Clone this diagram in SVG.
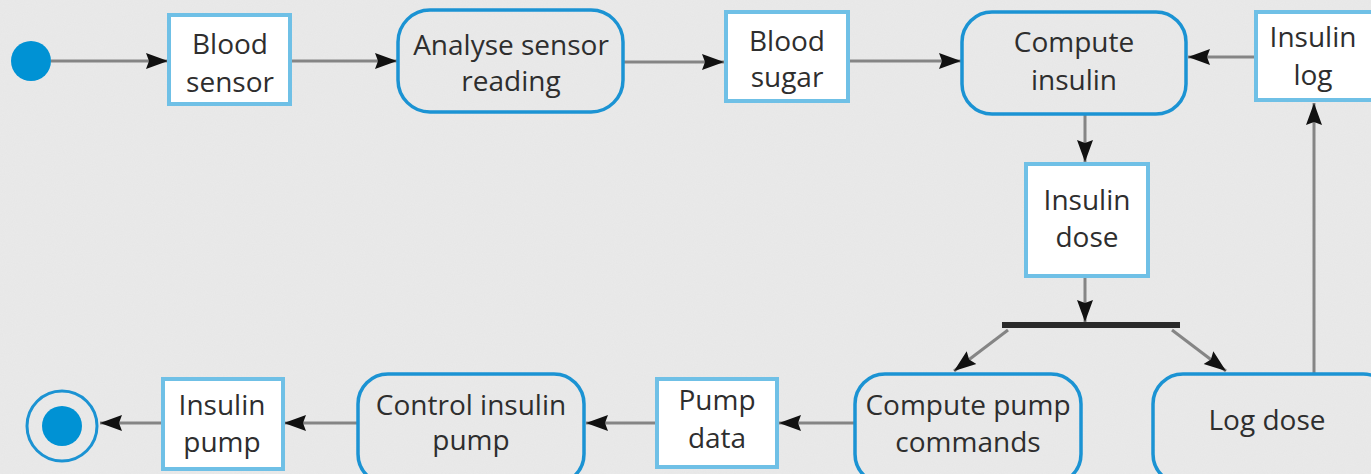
<svg xmlns="http://www.w3.org/2000/svg" width="1371" height="474" viewBox="0 0 1371 474">
<style>
.bg{fill:#eaeaea}
.obj{fill:#ffffff;stroke:#6fc0e6;stroke-width:4}
.act{fill:none;stroke:#1b93d3;stroke-width:3.5}
.t{font-family:"Open Sans","Noto Sans",sans-serif;font-size:28px;fill:#2e2e2e;text-anchor:middle}
.c{fill:none;stroke:#858585;stroke-width:3}
.start{fill:#0092d4}
</style>
<defs>
<marker id="ah" markerUnits="userSpaceOnUse" markerWidth="24" markerHeight="18" refX="22" refY="9" orient="auto">
<path d="M0,1 L22,9 L0,17 L3,9 Z" fill="#111"/>
</marker>
<filter id="noise" x="0" y="0" width="100%" height="100%">
<feTurbulence type="fractalNoise" baseFrequency="0.9" numOctaves="2" seed="3"/>
<feColorMatrix type="matrix" values="0 0 0 0 0.5  0 0 0 0 0.5  0 0 0 0 0.5  0 0 0 0.08 0"/>
</filter>
</defs>
<rect class="bg" x="0" y="0" width="1371" height="474"/>
<rect x="0" y="0" width="1371" height="474" filter="url(#noise)"/>

<g id="connectors">
<line class="c" x1="51" y1="61" x2="168" y2="61" marker-end="url(#ah)"/>
<line class="c" x1="291" y1="61" x2="397" y2="61" marker-end="url(#ah)"/>
<line class="c" x1="624" y1="62" x2="724" y2="62" marker-end="url(#ah)"/>
<line class="c" x1="850" y1="61" x2="961" y2="61" marker-end="url(#ah)"/>
<line class="c" x1="1255" y1="57" x2="1188" y2="57" marker-end="url(#ah)"/>
<line class="c" x1="1085" y1="115" x2="1085" y2="162" marker-end="url(#ah)"/>
<line class="c" x1="1085" y1="278" x2="1085" y2="322" marker-end="url(#ah)"/>
<line class="c" x1="1008" y1="330" x2="954" y2="371" marker-end="url(#ah)"/>
<line class="c" x1="1172" y1="330" x2="1226" y2="371" marker-end="url(#ah)"/>
<line class="c" x1="1314" y1="374" x2="1314" y2="103" marker-end="url(#ah)"/>
<line class="c" x1="854" y1="423" x2="779" y2="423" marker-end="url(#ah)"/>
<line class="c" x1="656" y1="423" x2="586" y2="423" marker-end="url(#ah)"/>
<line class="c" x1="357" y1="423" x2="284" y2="423" marker-end="url(#ah)"/>
<line class="c" x1="162" y1="423" x2="100" y2="423" marker-end="url(#ah)"/>
</g>

<g id="start"><circle class="start" cx="31" cy="61" r="20"/></g>

<g id="blood-sensor">
<rect class="obj" x="169" y="15" width="121" height="89"/>
<text class="t" x="230" y="54">Blood</text>
<text class="t" x="230" y="92">sensor</text>
</g>

<g id="analyse">
<rect class="act" x="398" y="10" width="225" height="102" rx="32"/>
<text class="t" x="511" y="55">Analyse sensor</text>
<text class="t" x="511" y="91">reading</text>
</g>

<g id="blood-sugar">
<rect class="obj" x="726" y="12" width="122" height="89"/>
<text class="t" x="787" y="51">Blood</text>
<text class="t" x="787" y="87">sugar</text>
</g>

<g id="compute-insulin">
<rect class="act" x="962" y="12" width="224" height="102" rx="30"/>
<text class="t" x="1074" y="52">Compute</text>
<text class="t" x="1074" y="90">insulin</text>
</g>

<g id="insulin-log">
<rect class="obj" x="1256" y="12" width="130" height="88"/>
<text class="t" x="1313" y="47">Insulin</text>
<text class="t" x="1313" y="85">log</text>
</g>

<g id="insulin-dose">
<rect class="obj" x="1026" y="164" width="122" height="112"/>
<text class="t" x="1087" y="210">Insulin</text>
<text class="t" x="1087" y="247">dose</text>
</g>

<g id="fork"><rect x="1002" y="322" width="178" height="6" fill="#2a2a2a"/></g>

<g id="log-dose">
<rect class="act" x="1153" y="374" width="240" height="110" rx="30"/>
<text class="t" x="1267" y="430">Log dose</text>
</g>

<g id="compute-pump">
<rect class="act" x="855" y="374" width="226" height="110" rx="30"/>
<text class="t" x="968" y="415">Compute pump</text>
<text class="t" x="968" y="452">commands</text>
</g>

<g id="pump-data">
<rect class="obj" x="657" y="379" width="120" height="88"/>
<text class="t" x="717" y="410">Pump</text>
<text class="t" x="717" y="448">data</text>
</g>

<g id="control-pump">
<rect class="act" x="358" y="374" width="226" height="110" rx="30"/>
<text class="t" x="471" y="415">Control insulin</text>
<text class="t" x="471" y="450">pump</text>
</g>

<g id="insulin-pump">
<rect class="obj" x="163" y="379" width="120" height="90"/>
<text class="t" x="222" y="415">Insulin</text>
<text class="t" x="222" y="452">pump</text>
</g>

<g id="end">
<circle cx="62" cy="426" r="35" fill="none" stroke="#1b93d3" stroke-width="3"/>
<circle class="start" cx="62" cy="426" r="20"/>
</g>
</svg>
